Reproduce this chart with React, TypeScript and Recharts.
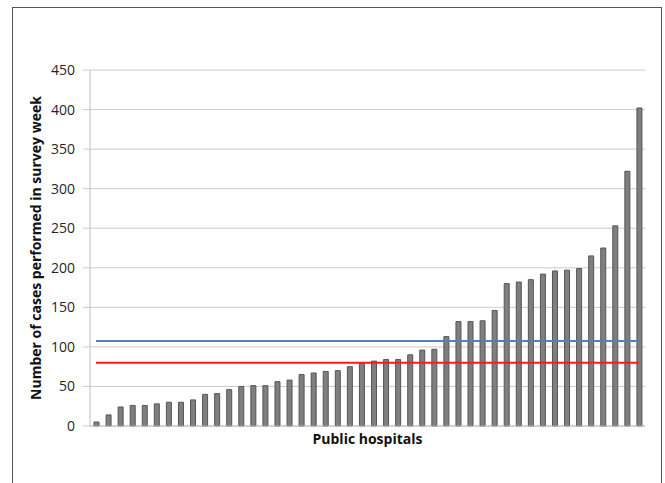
import React from "react";
import {
  BarChart,
  Bar,
  XAxis,
  YAxis,
  CartesianGrid,
  ReferenceLine,
} from "recharts";

// cases per hospital, sorted ascending
const cases = [
  5, 14, 24, 26, 26, 28, 30, 30, 33, 40, 41, 46, 50, 51, 51, 56, 58, 65, 67,
  69, 70, 75, 79, 82, 84, 84, 90, 96, 97, 113, 132, 132, 133, 146, 180, 182,
  185, 192, 196, 197, 199, 215, 225, 253, 322, 402,
];
const hospitals = cases.map((_, i) => `H${i + 1}`);
const yTicks = [0, 50, 100, 150, 200, 250, 300, 350, 400, 450];
const meanCases = 107.5;
const medianCases = 80;

const data = hospitals.map((h, i) => ({ hospital: h, cases: cases[i] }));

const font = "'Open Sans', 'Liberation Sans', sans-serif";
const gridColor = "#d6c8c0";

export default function App() {
  const first = hospitals[0];
  const last = hospitals[hospitals.length - 1];
  return (
    <div
      style={{
        position: "absolute",
        left: 0,
        top: 0,
        width: 665,
        height: 483,
        background: "#fff",
        overflow: "hidden",
        fontFamily: font,
      }}
    >
      <div
        style={{
          position: "absolute",
          left: 12,
          top: 7,
          width: 648,
          height: 476,
          borderTop: "1px solid #555",
          borderLeft: "1px solid #555",
          borderRight: "1px solid #555",
        }}
      />
      <BarChart
        width={665}
        height={483}
        data={data}
        margin={{ top: 70, right: 20, bottom: 27, left: 0 }}
        style={{ position: "absolute", left: 0, top: 0 }}
      >
        <CartesianGrid horizontal vertical={false} stroke={gridColor} />
        <XAxis
          dataKey="hospital"
          height={30}
          tick={false}
          tickLine={false}
          axisLine={{ stroke: "#bfbfbf" }}
          label={{
            value: "Public hospitals",
            position: "insideTop",
            offset: 8,
            style: {
              fontFamily: font,
              fontWeight: 700,
              fontSize: 14,
              fill: "#111",
            },
          }}
        />
        <YAxis
          width={90}
          domain={[0, 450]}
          ticks={yTicks}
          interval={0}
          tickSize={7}
          tickMargin={8}
          tickLine={{ stroke: gridColor }}
          axisLine={{ stroke: "#bfbfbf" }}
          tick={{ fontFamily: font, fontSize: 14, fill: "#262626" }}
          label={{
            value: "Number of cases performed in survey week",
            angle: -90,
            position: "insideLeft",
            offset: 36,
            style: {
              textAnchor: "middle",
              fontFamily: font,
              fontWeight: 700,
              fontSize: 14,
              fill: "#111",
            },
          }}
        />
        <Bar
          dataKey="cases"
          fill="#7f7f7f"
          stroke="#555"
          strokeWidth={1}
          barSize={5}
          isAnimationActive={false}
        />
        <ReferenceLine
          segment={[
            { x: first, y: meanCases },
            { x: last, y: meanCases },
          ]}
          stroke="#4f81bd"
          strokeWidth={2}
        />
        <ReferenceLine
          segment={[
            { x: first, y: medianCases },
            { x: last, y: medianCases },
          ]}
          stroke="#ff1a1a"
          strokeWidth={2}
        />
      </BarChart>
    </div>
  );
}
